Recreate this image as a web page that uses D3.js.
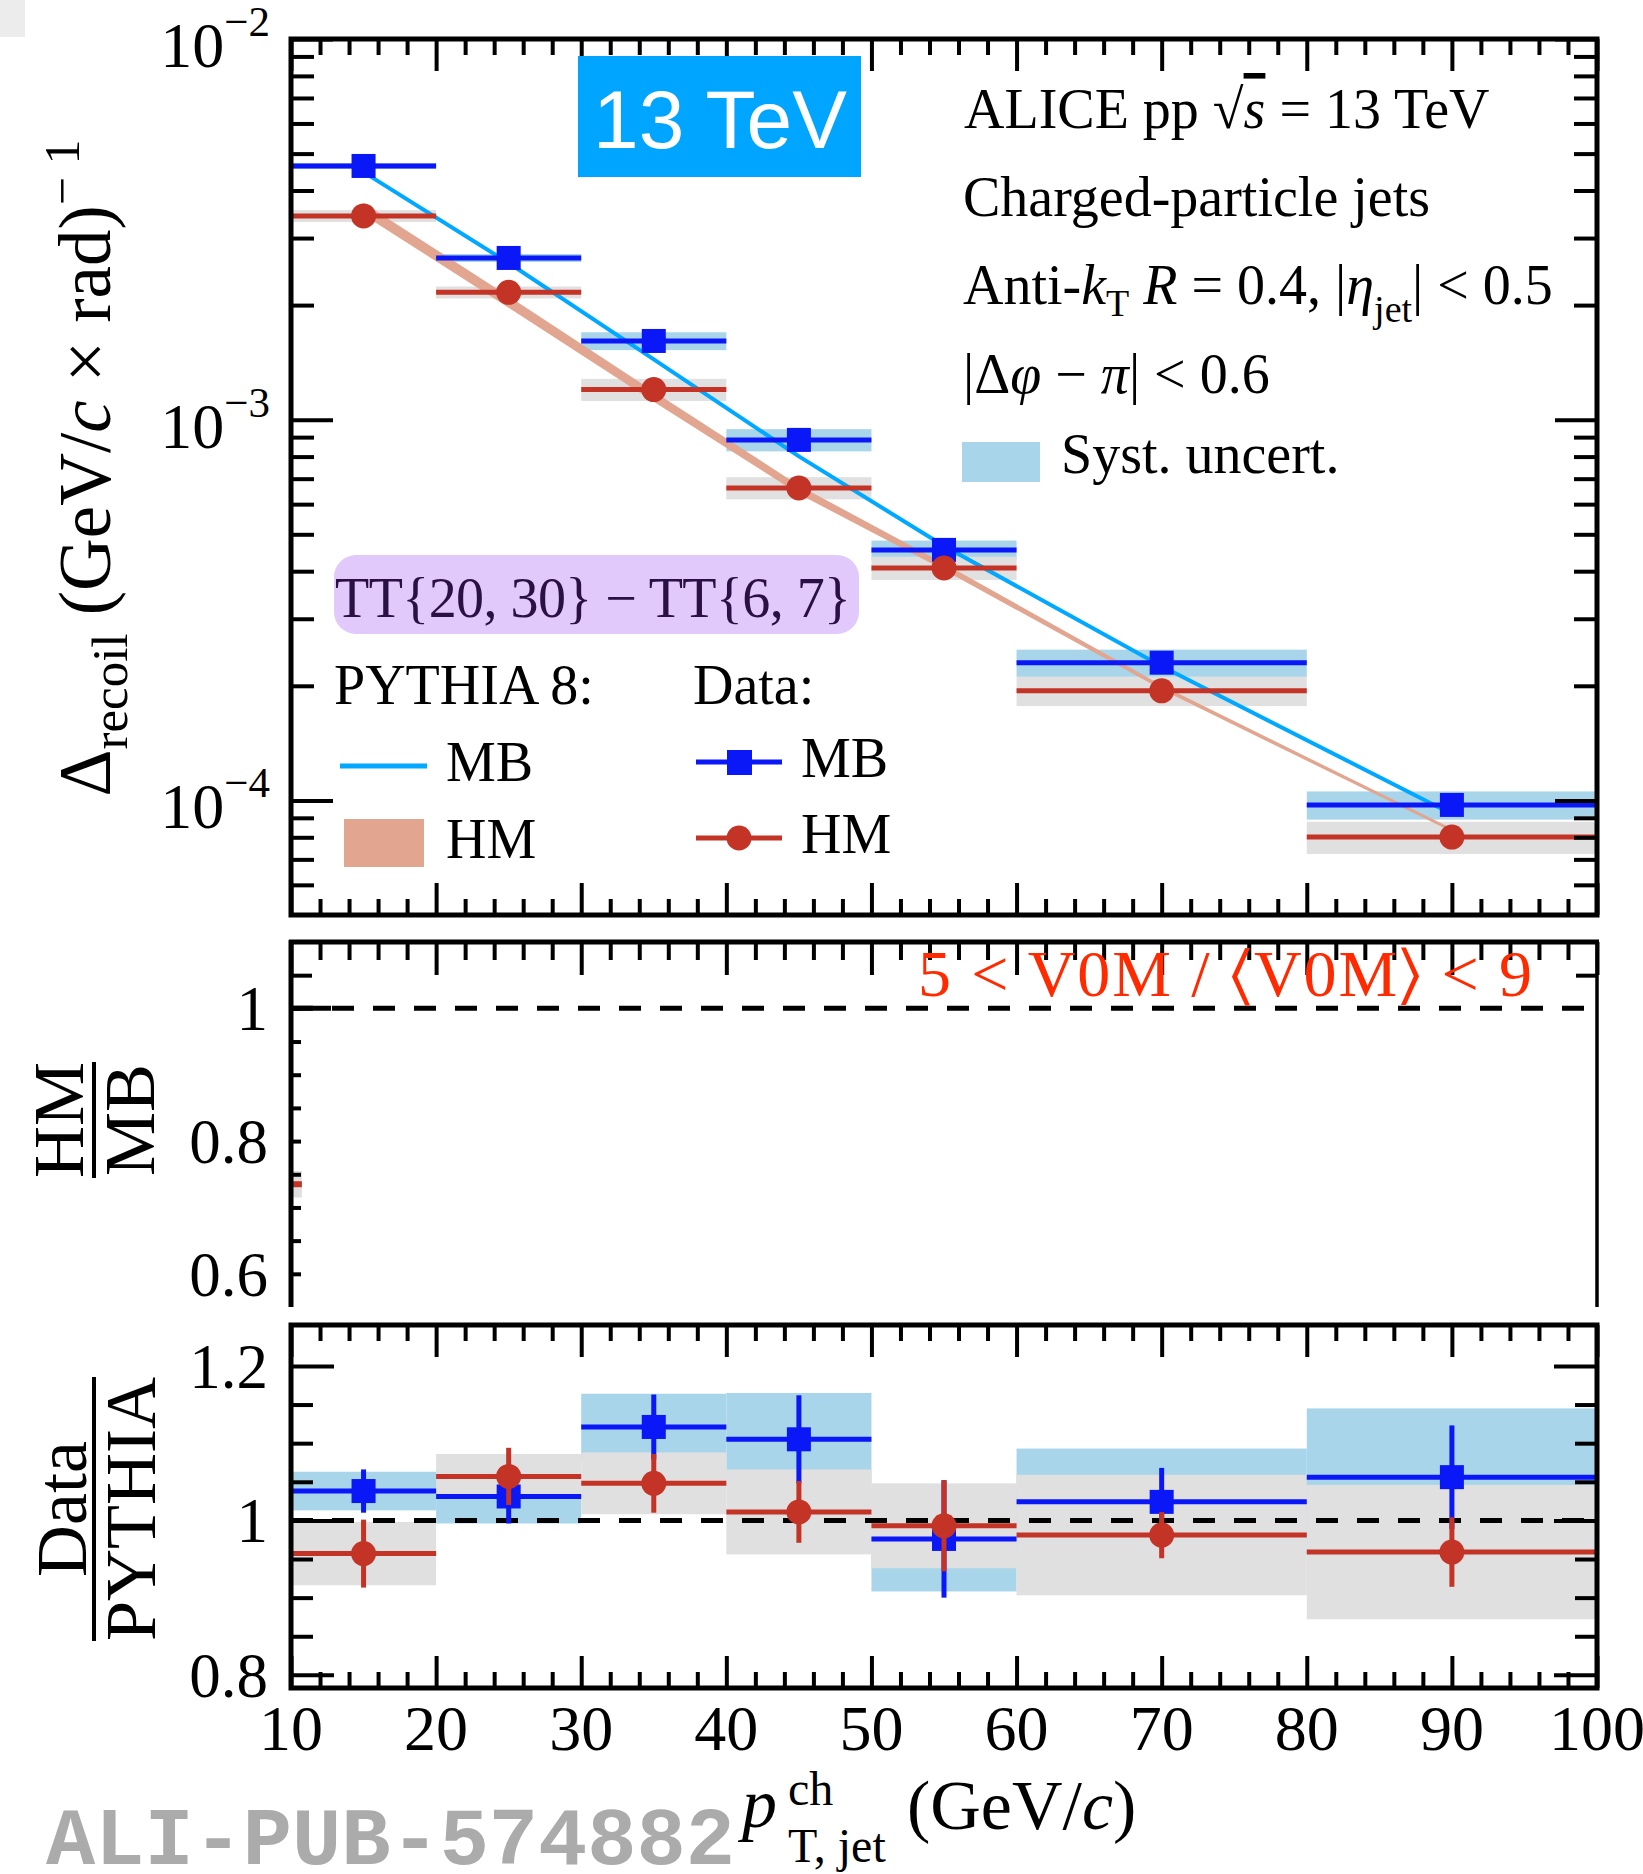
<!DOCTYPE html>
<html>
<head>
<meta charset="utf-8">
<script src="https://cdn.jsdelivr.net/npm/d3@7"></script>
<style>
  body { margin: 0; background: #fff; }
  svg text { font-family: "Liberation Serif", "Times New Roman", serif; }
</style>
</head>
<body>
<div id="chart"></div>
<script>
// pT bins (GeV/c)
var binEdges = [[10, 20], [20, 30], [30, 40], [40, 50], [50, 60], [60, 80], [80, 100]];
var binCenters = [15, 25, 35, 45, 55, 70, 90];

// top panel: Delta_recoil, (GeV/c x rad)^-1
var dataMB = [4.64e-3, 2.66e-3, 1.61e-3, 8.85e-4, 4.55e-4, 2.30e-4, 9.73e-5];
var dataHM = [3.43e-3, 2.16e-3, 1.20e-3, 6.62e-4, 4.08e-4, 1.94e-4, 8.01e-5];
var systMB = [0.018, 0.024, 0.054, 0.067, 0.058, 0.082, 0.085];   // relative
var systHM = [0.036, 0.036, 0.067, 0.067, 0.070, 0.088, 0.097];   // relative
var pythiaMB = [4.47e-3, 2.58e-3, 1.44e-3, 8.01e-4, 4.66e-4, 2.25e-4, 9.21e-5];
var pythiaHM = [3.58e-3, 2.04e-3, 1.15e-3, 6.55e-4, 4.11e-4, 1.98e-4, 8.35e-5];
var pythiaHMerr = [0.036, 0.035, 0.031, 0.026, 0.020, 0.013, 0.010]; // relative

// middle panel: HM / MB (only a sliver is visible at the left edge)
var hmOverMB = [{x0: 10, x1: 10.75, value: 0.735, syst: 0.02}];

// bottom panel: Data / PYTHIA
var ratioMB = [1.038, 1.031, 1.121, 1.105, 0.976, 1.024, 1.056];
var ratioMBstat = [0.028, 0.035, 0.042, 0.057, 0.076, 0.044, 0.067];
var ratioMBsyst = [0.025, 0.035, 0.043, 0.060, 0.068, 0.069, 0.089];
var ratioHM = [0.957, 1.057, 1.048, 1.011, 0.993, 0.981, 0.959];
var ratioHMstat = [0.044, 0.037, 0.038, 0.040, 0.059, 0.030, 0.045];
var ratioHMsyst = [0.041, 0.029, 0.040, 0.055, 0.055, 0.078, 0.087];

// tick values
var xMajor = [10, 20, 30, 40, 50, 60, 70, 80, 90, 100];
var xMinor = d3.range(12, 100, 2).filter(function(v) { return v % 10 !== 0; });
var xLabels = ["10", "20", "30", "40", "50", "60", "70", "80", "90", "100"];
var topMajor = [1e-4, 1e-3, 1e-2];
var topLabelExp = ["\u22124", "\u22123", "\u22122"];
var topMinor = [6e-5, 7e-5, 8e-5, 9e-5, 2e-4, 3e-4, 4e-4, 5e-4, 6e-4, 7e-4, 8e-4, 9e-4,
                2e-3, 3e-3, 4e-3, 5e-3, 6e-3, 7e-3, 8e-3, 9e-3];
var midMajor = [1.05];
var midMinor = [0.6, 0.65, 0.7, 0.75, 0.8, 0.85, 0.9, 0.95, 1.0];
var midLabels = [1, 0.8, 0.6];
var botMajor = [0.8, 1.0, 1.2];
var botMinor = [0.85, 0.9, 0.95, 1.05, 1.1, 1.15];
var botLabels = [1.2, 1, 0.8];

var colMB = "#0a17f7", colHM = "#c33326";
var colSystMB = "#a8d5ea", colSystHM = "#e0e0e0";
var colPyMB = "#00a8ff", colPyHM = "#e2a590";

var W = 1643, H = 1874;
var svg = d3.select("#chart").append("svg")
  .attr("width", W)
  .attr("height", H)
  .attr("viewBox", "0 0 " + W + " " + H);

var x = d3.scaleLinear().domain([10, 100]).range([291, 1597]);
var yTop = d3.scaleLog().domain([5e-5, 1e-2]).range([915, 39]);
var yMid = d3.scaleLinear().domain([0.55, 1.1]).range([1307, 942]);
var yBot = d3.scaleLinear().domain([0.783, 1.253]).range([1688, 1325]);

// faint screenshot corner
svg.append("rect").attr("x", 0).attr("y", 0).attr("width", 25).attr("height", 37).attr("fill", "#ececec");

// ---------- helpers ----------
function ticks(g, axisFn, scale, values, size, tx, ty, width) {
  g.append("g")
    .attr("transform", "translate(" + tx + "," + ty + ")")
    .call(axisFn(scale).tickValues(values).tickSize(size).tickFormat(""))
    .call(function(a) {
      a.select(".domain").remove();
      a.selectAll("line").attr("stroke", "#000").attr("stroke-width", width || 4);
    });
}

function systBoxes(g, yScale, vals, err, color, relative) {
  g.append("g").selectAll("rect").data(vals).enter().append("rect")
    .attr("x", function(d, i) { return x(binEdges[i][0]); })
    .attr("width", function(d, i) { return x(binEdges[i][1]) - x(binEdges[i][0]); })
    .attr("y", function(d, i) { return yScale(relative ? d * (1 + err[i]) : d + err[i]); })
    .attr("height", function(d, i) {
      var hi = relative ? d * (1 + err[i]) : d + err[i];
      var lo = relative ? d * (1 - err[i]) : d - err[i];
      return yScale(lo) - yScale(hi);
    })
    .attr("fill", color);
}

function points(g, yScale, vals, stat, color, shape) {
  var p = g.append("g");
  p.selectAll("line.h").data(vals).enter().append("line")
    .attr("x1", function(d, i) { return x(binEdges[i][0]); })
    .attr("x2", function(d, i) { return x(binEdges[i][1]); })
    .attr("y1", function(d) { return yScale(d); })
    .attr("y2", function(d) { return yScale(d); })
    .attr("stroke", color).attr("stroke-width", 5);
  if (stat) {
    p.selectAll("line.v").data(vals).enter().append("line")
      .attr("x1", function(d, i) { return x(binCenters[i]); })
      .attr("x2", function(d, i) { return x(binCenters[i]); })
      .attr("y1", function(d, i) { return yScale(d + stat[i]); })
      .attr("y2", function(d, i) { return yScale(d - stat[i]); })
      .attr("stroke", color).attr("stroke-width", 5);
  }
  if (shape === "square") {
    p.selectAll("rect").data(vals).enter().append("rect")
      .attr("x", function(d, i) { return x(binCenters[i]) - 12; })
      .attr("y", function(d) { return yScale(d) - 12; })
      .attr("width", 24).attr("height", 24)
      .attr("fill", color);
  } else {
    p.selectAll("circle").data(vals).enter().append("circle")
      .attr("cx", function(d, i) { return x(binCenters[i]); })
      .attr("cy", function(d) { return yScale(d); })
      .attr("r", 12.5)
      .attr("fill", color);
  }
}

function xTickRows(g, yTopEdge, yBottomEdge, bottomTicks) {
  ticks(g, d3.axisTop, x, xMajor, -32, 0, yTopEdge);
  ticks(g, d3.axisTop, x, xMinor, -16, 0, yTopEdge);
  if (bottomTicks) {
    ticks(g, d3.axisBottom, x, xMajor, -32, 0, yBottomEdge);
    ticks(g, d3.axisBottom, x, xMinor, -16, 0, yBottomEdge);
  }
}

// ---------- top panel ----------
var gTop = svg.append("g");
systBoxes(gTop, yTop, dataMB, systMB, colSystMB, true);
systBoxes(gTop, yTop, dataHM, systHM, colSystHM, true);

var hmBand = d3.area()
  .x(function(d, i) { return x(binCenters[i]); })
  .y0(function(d, i) { return yTop(d * (1 - pythiaHMerr[i])); })
  .y1(function(d, i) { return yTop(d * (1 + pythiaHMerr[i])); });
gTop.append("path").datum(pythiaHM).attr("d", hmBand).attr("fill", colPyHM);

var mbLine = d3.line()
  .x(function(d, i) { return x(binCenters[i]); })
  .y(function(d) { return yTop(d); });
gTop.append("path").datum(pythiaMB).attr("d", mbLine)
  .attr("fill", "none").attr("stroke", colPyMB).attr("stroke-width", 4);

points(gTop, yTop, dataMB, null, colMB, "square");
points(gTop, yTop, dataHM, null, colHM, "circle");

xTickRows(gTop, 39, 915, true);
ticks(gTop, d3.axisLeft, yTop, topMajor, -42, 291, 0);
ticks(gTop, d3.axisLeft, yTop, topMinor, -23, 291, 0);
ticks(gTop, d3.axisRight, yTop, topMajor, -42, 1597, 0);
ticks(gTop, d3.axisRight, yTop, topMinor, -23, 1597, 0);
gTop.append("rect").attr("x", 291).attr("y", 39).attr("width", 1306).attr("height", 876)
  .attr("fill", "none").attr("stroke", "#000").attr("stroke-width", 5);

var topLab = gTop.append("g").selectAll("text").data(topMajor).enter().append("text")
  .attr("x", 270)
  .attr("y", function(d) { return yTop(d) + 28; })
  .attr("text-anchor", "end")
  .attr("font-size", 64);
topLab.append("tspan").text("10");
topLab.append("tspan").attr("dy", -31).attr("font-size", 43).text(function(d, i) { return topLabelExp[i]; });

// y title
var yTitle = svg.append("text")
  .attr("transform", "translate(110,468) rotate(-90)")
  .attr("text-anchor", "middle")
  .attr("font-size", 73);
yTitle.append("tspan").text("\u0394");
yTitle.append("tspan").attr("font-size", 51).attr("dy", 17).text("recoil");
yTitle.append("tspan").attr("dy", -17).text(" (GeV/");
yTitle.append("tspan").attr("font-style", "italic").text("c");
yTitle.append("tspan").text(" \u00d7 rad)");
yTitle.append("tspan").attr("font-size", 50).attr("dy", -31).text("\u2212 1");

// 13 TeV badge
svg.append("rect").attr("x", 578).attr("y", 56).attr("width", 283).attr("height", 121).attr("fill", "#00a5ff");
svg.append("text").attr("x", 720).attr("y", 148).attr("text-anchor", "middle")
  .style("font-family", "'Liberation Sans', Arial, sans-serif")
  .attr("font-size", 82).attr("fill", "#fff").text("13 TeV");

// info text
var info = svg.append("g").attr("font-size", 56);
var t1 = info.append("text").attr("x", 964).attr("y", 128);
t1.append("tspan").text("ALICE pp  \u221a");
t1.append("tspan").attr("font-style", "italic").style("text-decoration", "overline").text("s");
t1.append("tspan").text(" = 13 TeV");
info.append("text").attr("x", 963).attr("y", 216).text("Charged-particle jets");
var t3 = info.append("text").attr("x", 963).attr("y", 304);
t3.append("tspan").text("Anti-");
t3.append("tspan").attr("font-style", "italic").text("k");
t3.append("tspan").attr("font-size", 38).attr("dy", 12).text("T");
t3.append("tspan").attr("dy", -12).text(" ");
t3.append("tspan").attr("font-style", "italic").text("R");
t3.append("tspan").text(" = 0.4, |");
t3.append("tspan").attr("font-style", "italic").text("\u03b7");
t3.append("tspan").attr("font-size", 38).attr("dy", 18).text("jet");
t3.append("tspan").attr("dy", -18).text("| < 0.5");
var t4 = info.append("text").attr("x", 963).attr("y", 393);
t4.append("tspan").text("|\u0394");
t4.append("tspan").attr("font-style", "italic").text("\u03c6");
t4.append("tspan").text(" \u2212 ");
t4.append("tspan").attr("font-style", "italic").text("\u03c0");
t4.append("tspan").text("| < 0.6");
info.append("rect").attr("x", 962).attr("y", 442).attr("width", 78).attr("height", 40).attr("fill", colSystMB);
info.append("text").attr("x", 1061).attr("y", 473).text("Syst. uncert.");

// selection badge
svg.append("rect").attr("x", 334).attr("y", 555).attr("width", 525).attr("height", 79)
  .attr("rx", 22).attr("fill", "#e2c9fb");
svg.append("text").attr("x", 335).attr("y", 617).attr("font-size", 56).attr("fill", "#2b1045")
  .attr("textLength", 516).attr("lengthAdjust", "spacing")
  .text("TT{20, 30} \u2212 TT{6, 7}");

// legend
var leg = svg.append("g").attr("font-size", 56);
leg.append("text").attr("x", 334).attr("y", 704).text("PYTHIA 8:");
leg.append("text").attr("x", 693).attr("y", 704).text("Data:");
leg.append("line").attr("x1", 340).attr("x2", 427).attr("y1", 766).attr("y2", 766)
  .attr("stroke", colPyMB).attr("stroke-width", 5);
leg.append("text").attr("x", 446).attr("y", 781).text("MB");
leg.append("rect").attr("x", 344).attr("y", 819).attr("width", 80).attr("height", 48).attr("fill", colPyHM);
leg.append("text").attr("x", 446).attr("y", 858).text("HM");
leg.append("line").attr("x1", 696).attr("x2", 782).attr("y1", 762).attr("y2", 762)
  .attr("stroke", colMB).attr("stroke-width", 5);
leg.append("rect").attr("x", 727).attr("y", 750).attr("width", 25).attr("height", 25).attr("fill", colMB);
leg.append("text").attr("x", 801).attr("y", 777).text("MB");
leg.append("line").attr("x1", 696).attr("x2", 782).attr("y1", 838).attr("y2", 838)
  .attr("stroke", colHM).attr("stroke-width", 5);
leg.append("circle").attr("cx", 739).attr("cy", 838).attr("r", 12.5).attr("fill", colHM);
leg.append("text").attr("x", 801).attr("y", 853).text("HM");

// ---------- middle panel ----------
var gMid = svg.append("g");
gMid.selectAll("rect").data(hmOverMB).enter().append("rect")
  .attr("x", function(d) { return x(d.x0); })
  .attr("width", function(d) { return x(d.x1) - x(d.x0); })
  .attr("y", function(d) { return yMid(d.value + d.syst); })
  .attr("height", function(d) { return yMid(d.value - d.syst) - yMid(d.value + d.syst); })
  .attr("fill", colSystHM);
gMid.selectAll("line.pt").data(hmOverMB).enter().append("line")
  .attr("x1", function(d) { return x(d.x0); })
  .attr("x2", function(d) { return x(d.x1); })
  .attr("y1", function(d) { return yMid(d.value); })
  .attr("y2", function(d) { return yMid(d.value); })
  .attr("stroke", colHM).attr("stroke-width", 6);
gMid.append("line").attr("x1", x(10)).attr("x2", x(100)).attr("y1", yMid(1)).attr("y2", yMid(1))
  .attr("stroke", "#000").attr("stroke-width", 5).attr("stroke-dasharray", "22,19");
gMid.append("line").attr("x1", x(10)).attr("x2", x(10) + 40).attr("y1", yMid(1)).attr("y2", yMid(1))
  .attr("stroke", "#000").attr("stroke-width", 5);
ticks(gMid, d3.axisTop, x, xMajor, -33, 0, 942);
ticks(gMid, d3.axisTop, x, xMinor, -18, 0, 942);
ticks(gMid, d3.axisLeft, yMid, midMajor, -21, 291, 0);
ticks(gMid, d3.axisLeft, yMid, midMinor, -10, 291, 0);
ticks(gMid, d3.axisRight, yMid, midMajor, -21, 1597, 0);
gMid.append("line").attr("x1", 289).attr("x2", 1599).attr("y1", 942).attr("y2", 942)
  .attr("stroke", "#000").attr("stroke-width", 5);
gMid.append("line").attr("x1", 291).attr("x2", 291).attr("y1", 940).attr("y2", 1307)
  .attr("stroke", "#000").attr("stroke-width", 5);
gMid.append("line").attr("x1", 1597).attr("x2", 1597).attr("y1", 940).attr("y2", 1307)
  .attr("stroke", "#000").attr("stroke-width", 3.5);
gMid.append("g").selectAll("text").data(midLabels).enter().append("text")
  .attr("x", 268).attr("y", function(d) { return yMid(d) + 22; })
  .attr("text-anchor", "end").attr("font-size", 63)
  .text(function(d) { return d; });
gMid.append("text").attr("x", 918).attr("y", 996).attr("font-size", 66).attr("fill", "#ff2a00")
  .attr("textLength", 614).attr("lengthAdjust", "spacing")
  .text("5 < V0M / \u2329V0M\u232a < 9");

var midTitle = svg.append("g").attr("transform", "translate(0,1120) rotate(-90)").attr("font-size", 72);
midTitle.append("text").attr("x", 0).attr("y", 83).attr("text-anchor", "middle").text("HM");
midTitle.append("line").attr("x1", -58).attr("x2", 58).attr("y1", 94).attr("y2", 94)
  .attr("stroke", "#000").attr("stroke-width", 4);
midTitle.append("text").attr("x", 0).attr("y", 154).attr("text-anchor", "middle").text("MB");

// ---------- bottom panel ----------
var gBot = svg.append("g");
systBoxes(gBot, yBot, ratioMB, ratioMBsyst, colSystMB, false);
systBoxes(gBot, yBot, ratioHM, ratioHMsyst, colSystHM, false);
gBot.append("line").attr("x1", x(10)).attr("x2", x(100)).attr("y1", yBot(1)).attr("y2", yBot(1))
  .attr("stroke", "#000").attr("stroke-width", 5).attr("stroke-dasharray", "22,19");
points(gBot, yBot, ratioMB, ratioMBstat, colMB, "square");
points(gBot, yBot, ratioHM, ratioHMstat, colHM, "circle");

xTickRows(gBot, 1325, 1688, true);
ticks(gBot, d3.axisLeft, yBot, botMajor, -43, 291, 0);
ticks(gBot, d3.axisLeft, yBot, botMinor, -22, 291, 0);
ticks(gBot, d3.axisRight, yBot, botMajor, -43, 1597, 0);
ticks(gBot, d3.axisRight, yBot, botMinor, -22, 1597, 0);
gBot.append("rect").attr("x", 291).attr("y", 1325).attr("width", 1306).attr("height", 363)
  .attr("fill", "none").attr("stroke", "#000").attr("stroke-width", 5);
gBot.append("g").selectAll("text").data(botLabels).enter().append("text")
  .attr("x", 268).attr("y", function(d) { return yBot(d) + 22; })
  .attr("text-anchor", "end").attr("font-size", 63)
  .text(function(d) { return d; });
gBot.append("g").selectAll("text").data(xMajor).enter().append("text")
  .attr("x", function(d) { return x(d); }).attr("y", 1750)
  .attr("text-anchor", "middle").attr("font-size", 64)
  .text(function(d, i) { return xLabels[i]; });

var botTitle = svg.append("g").attr("transform", "translate(0,1509) rotate(-90)").attr("font-size", 72);
botTitle.append("text").attr("x", 0).attr("y", 86).attr("text-anchor", "middle").text("Data");
botTitle.append("line").attr("x1", -132).attr("x2", 132).attr("y1", 94).attr("y2", 94)
  .attr("stroke", "#000").attr("stroke-width", 4);
botTitle.append("text").attr("x", 0).attr("y", 155).attr("text-anchor", "middle").text("PYTHIA");

// watermark
svg.append("text").attr("x", 46).attr("y", 1864)
  .style("font-family", "'Liberation Mono', 'Courier New', monospace")
  .attr("font-weight", "bold").attr("font-size", 82).attr("fill", "#ababab")
  .text("ALI-PUB-574882");

// x title
var xt = svg.append("g").attr("font-size", 70);
xt.append("text").attr("x", 742).attr("y", 1827).attr("font-style", "italic").text("p");
xt.append("text").attr("x", 788).attr("y", 1805).attr("font-size", 48).text("ch");
xt.append("text").attr("x", 788).attr("y", 1862).attr("font-size", 48).text("T, jet");
var xt2 = xt.append("text").attr("x", 907).attr("y", 1829);
xt2.append("tspan").text("(GeV/");
xt2.append("tspan").attr("font-style", "italic").text("c");
xt2.append("tspan").text(")");
</script>
</body>
</html>
